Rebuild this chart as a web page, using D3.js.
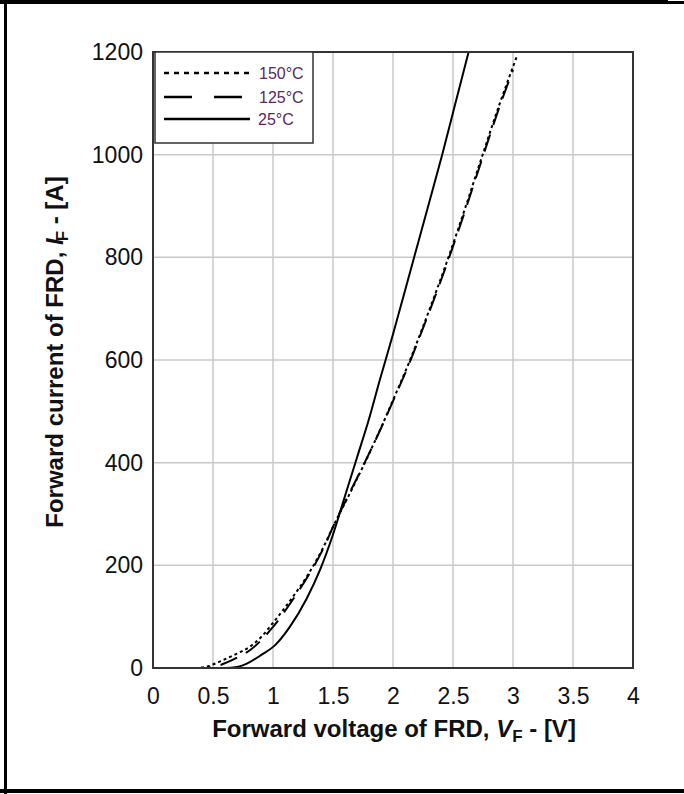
<!DOCTYPE html>
<html>
<head>
<meta charset="utf-8">
<script src="https://cdn.jsdelivr.net/npm/d3@7"></script>
<style>
  body { margin: 0; background: #fff; }
  text { font-family: "Liberation Sans", Arial, sans-serif; }
</style>
</head>
<body>
<svg id="chart" width="684" height="794"></svg>
<script>
// data
const xTicks = [0, 0.5, 1, 1.5, 2, 2.5, 3, 3.5, 4];
const yTicks = [0, 200, 400, 600, 800, 1000, 1200];

const seriesNames = ['150°C', '125°C', '25°C'];

const vf150 = [0.05, 0.35, 0.45, 0.58, 0.7, 0.81, 0.9, 1.0, 1.17, 1.3, 1.43, 1.5, 1.64, 1.77, 1.9, 2.03, 2.13, 2.25, 2.37, 2.45, 2.6, 2.74, 2.89, 3.03];
const if150 = [0, 0, 3, 15, 28, 42, 60, 88, 140, 185, 240, 275, 340, 402, 468, 538, 593, 665, 740, 792, 895, 995, 1100, 1190];

const vf125 = [0.1, 0.45, 0.55, 0.7, 0.81, 1.0, 1.17, 1.3, 1.43, 1.5, 1.64, 1.77, 1.9, 2.03, 2.13, 2.25, 2.37, 2.45, 2.6, 2.74, 2.89, 3.0];
const if125 = [0, 0, 5, 20, 35, 80, 135, 182, 238, 275, 342, 403, 467, 536, 590, 662, 736, 788, 890, 990, 1095, 1165];

const vf25 = [0.1, 0.6, 0.7, 0.81, 0.9, 1.02, 1.14, 1.28, 1.39, 1.5, 1.6, 1.7, 1.8, 1.89, 2.0, 2.17, 2.27, 2.41, 2.52, 2.63];
const if25 = [0, 0, 2, 12, 25, 45, 80, 135, 190, 260, 335, 410, 485, 561, 650, 795, 880, 1000, 1100, 1200];

const svg = d3.select('#chart');
const plotLeft = 153, plotRight = 633, plotTop = 52, plotBottom = 668;

const x = d3.scaleLinear().domain([0, 4]).range([plotLeft, plotRight]);
const y = d3.scaleLinear().domain([0, 1200]).range([plotBottom, plotTop]);

// outer frame (partly cut off in the original)
svg.append('rect').attr('x', 0).attr('y', 0).attr('width', 668).attr('height', 4).attr('fill', '#000');
svg.append('rect').attr('x', 668).attr('y', 1).attr('width', 16).attr('height', 3).attr('fill', '#000');
svg.append('rect').attr('x', 4).attr('y', 0).attr('width', 3).attr('height', 794).attr('fill', '#000');
svg.append('rect').attr('x', 0).attr('y', 789).attr('width', 684).attr('height', 4).attr('fill', '#000');

// grid
svg.append('g')
  .selectAll('line')
  .data(xTicks.slice(1, -1))
  .enter()
  .append('line')
  .attr('x1', d => x(d)).attr('x2', d => x(d))
  .attr('y1', plotTop).attr('y2', plotBottom)
  .attr('stroke', '#c8c8c8').attr('stroke-width', 1.5);

svg.append('g')
  .selectAll('line')
  .data(yTicks.slice(1, -1))
  .enter()
  .append('line')
  .attr('x1', plotLeft).attr('x2', plotRight)
  .attr('y1', d => y(d)).attr('y2', d => y(d))
  .attr('stroke', '#c8c8c8').attr('stroke-width', 1.5);

// axes (tick labels only, no tick marks)
const xAxis = svg.append('g')
  .attr('transform', `translate(0,${plotBottom})`)
  .call(d3.axisBottom(x).tickValues(xTicks).tickSize(0).tickPadding(20).tickFormat(d3.format('')));
const yAxis = svg.append('g')
  .attr('transform', `translate(${plotLeft},0)`)
  .call(d3.axisLeft(y).tickValues(yTicks).tickSize(0).tickPadding(10).tickFormat(d3.format('')));
[xAxis, yAxis].forEach(a => {
  a.select('.domain').remove();
  a.selectAll('text')
    .attr('font-size', 23)
    .attr('fill', '#111')
    .style('font-family', '"Liberation Sans", Arial, sans-serif');
});

// curves
const line = d3.line()
  .x(d => x(d[0]))
  .y(d => y(d[1]))
  .curve(d3.curveMonotoneX);

const series = [
  { name: seriesNames[0], pts: d3.zip(vf150, if150), dash: '3,3' },
  { name: seriesNames[1], pts: d3.zip(vf125, if125), dash: '18,10' },
  { name: seriesNames[2], pts: d3.zip(vf25, if25), dash: null },
];

svg.append('clipPath').attr('id', 'plotclip')
  .append('rect')
  .attr('x', plotLeft).attr('y', plotTop)
  .attr('width', plotRight - plotLeft).attr('height', plotBottom - plotTop);

svg.append('g')
  .attr('clip-path', 'url(#plotclip)')
  .selectAll('path')
  .data(series)
  .enter()
  .append('path')
  .attr('d', s => line(s.pts))
  .attr('fill', 'none')
  .attr('stroke', '#000')
  .attr('stroke-width', 2)
  .attr('stroke-dasharray', s => s.dash);

// plot frame
svg.append('rect')
  .attr('x', plotLeft).attr('y', plotTop)
  .attr('width', plotRight - plotLeft).attr('height', plotBottom - plotTop)
  .attr('fill', 'none').attr('stroke', '#333').attr('stroke-width', 2);

// legend
const legend = svg.append('g');
legend.append('rect')
  .attr('x', plotLeft + 2).attr('y', plotTop)
  .attr('width', 158).attr('height', 91)
  .attr('fill', '#fff').attr('stroke', '#333').attr('stroke-width', 1.5);

const legendDash = ['5,5', '28,22', null];
const legendY = [73, 97, 119];
series.forEach((s, i) => {
  legend.append('line')
    .attr('x1', 164).attr('x2', 250)
    .attr('y1', legendY[i]).attr('y2', legendY[i])
    .attr('stroke', '#000').attr('stroke-width', 2.5)
    .attr('stroke-dasharray', legendDash[i]);
  legend.append('text')
    .attr('x', 259 - (i === 2 ? 1 : 0)).attr('y', legendY[i] + 6)
    .attr('font-size', 16)
    .attr('fill', '#5a2860')
    .text(s.name);
});

// axis titles
const xTitle = svg.append('text')
  .attr('x', 394).attr('y', 737)
  .attr('text-anchor', 'middle')
  .attr('font-size', 24).attr('font-weight', 'bold')
  .attr('fill', '#111');
xTitle.append('tspan').text('Forward voltage of FRD, ');
xTitle.append('tspan').attr('font-style', 'italic').text('V');
xTitle.append('tspan').attr('font-size', 17).attr('dy', 5).text('F');
xTitle.append('tspan').attr('dy', -5).text(' - [V]');

const yTitle = svg.append('text')
  .attr('transform', 'translate(63,352) rotate(-90)')
  .attr('text-anchor', 'middle')
  .attr('font-size', 24).attr('font-weight', 'bold')
  .attr('fill', '#111');
yTitle.append('tspan').text('Forward current of FRD, ');
yTitle.append('tspan').attr('font-style', 'italic').text('I');
yTitle.append('tspan').attr('font-size', 17).attr('dy', 5).attr('dx', -3).text('F');
yTitle.append('tspan').attr('dy', -5).text(' - [A]');
</script>
</body>
</html>
